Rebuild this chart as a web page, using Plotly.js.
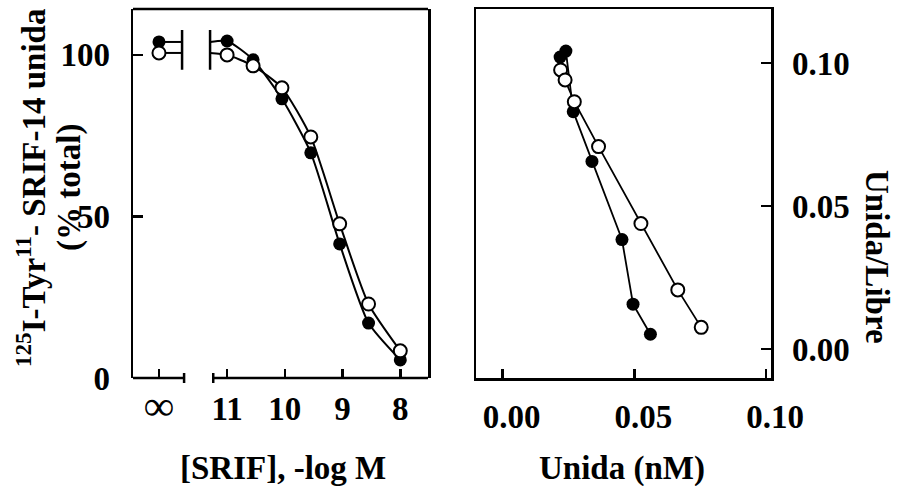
<!DOCTYPE html>
<html>
<head>
<meta charset="utf-8">
<script src="https://cdn.plot.ly/plotly-3.0.1.min.js"></script>
<style>html,body{margin:0;padding:0;background:#fff;}#chart{width:899px;height:486px;}</style>
</head>
<body>
<div id="chart"></div>
<script>
// ---- Left panel: displacement curves (x = -log M) ----
const infPos = 12.18;                 // axis position used for the "∞" category
const breakLeft = 11.78;              // curve-break bar, left side
const breakRight = 11.295;            // curve-break bar, right side
const axisBreakLeft = 11.745;         // axis-break end caps
const axisBreakRight = 11.24;
const logConc = [11, 10.55, 10.05, 9.55, 9.05, 8.55, 8];
const filledBound = [104.3, 98.5, 86.4, 69.7, 41.5, 17.0, 5.6];
const openBound   = [100.0, 96.6, 89.8, 74.6, 47.7, 22.9, 8.4];
const filledInf = 104.0;
const openInf = 100.6;
const leftTickVals = [infPos, 11, 10, 9, 8];
const leftTickText = ['<span style="font-size:42px">∞</span>', '11', '10', '9', '8'];

// ---- Right panel: Scatchard ----
const filledB  = [0.0218, 0.0240, 0.0268, 0.0339, 0.0453, 0.0495, 0.0561];
const filledBF = [0.1021, 0.1042, 0.0830, 0.0656, 0.0383, 0.0157, 0.0052];
const openB    = [0.0220, 0.0237, 0.0272, 0.0364, 0.0525, 0.0665, 0.0754];
const openBF   = [0.0976, 0.0941, 0.0865, 0.0708, 0.0439, 0.0207, 0.0076];
const rightTickVals = [0, 0.05, 0.10];
const rightTickText = ['0.00', '0.05', '0.10'];

const W = 899, H = 486;
const FONT = {family: 'Liberation Serif, Times New Roman, serif', size: 33, color: '#000', weight: 'bold'};
const LW = 2.5;
const px = v => v / W;
const py = v => 1 - v / H;

const domY = [py(378), py(9)];
const domX1 = [px(133), px(428)];
const domX2 = [px(476), px(771)];

const filledMarker = {symbol: 'circle', size: 13, color: '#000', line: {width: 0}};
const openMarker = {symbol: 'circle', size: 13, color: '#fff', line: {width: 2, color: '#000'}};
const curveLine = {color: '#000', width: 2, shape: 'spline', smoothing: 0.6};

const traces = [
  // connectors from ∞ points to the curve break
  {x: [infPos, breakLeft], y: [filledInf, filledInf], mode: 'lines', line: {color: '#000', width: 2}, xaxis: 'x', yaxis: 'y'},
  {x: [infPos, breakLeft], y: [openInf, openInf], mode: 'lines', line: {color: '#000', width: 2}, xaxis: 'x', yaxis: 'y'},
  // curves (start at the right break bar)
  {x: [breakRight].concat(logConc), y: [filledInf].concat(filledBound), mode: 'lines', line: curveLine, xaxis: 'x', yaxis: 'y'},
  {x: [breakRight].concat(logConc), y: [openInf].concat(openBound), mode: 'lines', line: curveLine, xaxis: 'x', yaxis: 'y'},
  // points
  {x: [infPos].concat(logConc), y: [filledInf].concat(filledBound), mode: 'markers', marker: filledMarker, xaxis: 'x', yaxis: 'y'},
  {x: [infPos].concat(logConc), y: [openInf].concat(openBound), mode: 'markers', marker: openMarker, xaxis: 'x', yaxis: 'y'},
  // Scatchard
  {x: filledB, y: filledBF, mode: 'lines+markers', line: {color: '#000', width: 1.8}, marker: filledMarker, xaxis: 'x2', yaxis: 'y2'},
  {x: openB, y: openBF, mode: 'lines+markers', line: {color: '#000', width: 1.8}, marker: openMarker, xaxis: 'x2', yaxis: 'y2'}
];

const capH = 5 / H;
const y0p = domY[0];
const shapes = [
  // top frame line, left panel
  {type: 'line', xref: 'x domain', yref: 'y domain', x0: 0, x1: 1, y0: 1, y1: 1, line: {color: '#000', width: LW}},
  // broken bottom axis
  {type: 'line', xref: 'paper', yref: 'paper', x0: domX1[0], x1: px(185), y0: y0p, y1: y0p, line: {color: '#000', width: LW}},
  {type: 'line', xref: 'paper', yref: 'paper', x0: px(214), x1: domX1[1], y0: y0p, y1: y0p, line: {color: '#000', width: LW}},
  {type: 'line', xref: 'x', yref: 'paper', x0: axisBreakLeft, x1: axisBreakLeft, y0: y0p - capH, y1: y0p + capH, line: {color: '#000', width: LW}},
  {type: 'line', xref: 'x', yref: 'paper', x0: axisBreakRight, x1: axisBreakRight, y0: y0p - capH, y1: y0p + capH, line: {color: '#000', width: LW}},
  // break bars on the curves
  {type: 'line', xref: 'x', yref: 'y', x0: breakLeft, x1: breakLeft, y0: 95.4, y1: 107.7, line: {color: '#000', width: LW}},
  {type: 'line', xref: 'x', yref: 'y', x0: breakRight, x1: breakRight, y0: 95.4, y1: 107.7, line: {color: '#000', width: LW}}
];

const annFont = Object.assign({}, FONT);
const annotations = [
  {text: '<sup>125</sup>I-Tyr<sup>11</sup>- SRIF-14 unida', x: px(31), y: py(188), xref: 'paper', yref: 'paper', textangle: -90, showarrow: false, xanchor: 'center', yanchor: 'middle', font: annFont},
  {text: '(% total)', x: px(69), y: py(188), xref: 'paper', yref: 'paper', textangle: -90, showarrow: false, xanchor: 'center', yanchor: 'middle', font: annFont},
  {text: '[SRIF], -log M', x: px(283), y: py(468), xref: 'paper', yref: 'paper', showarrow: false, xanchor: 'center', yanchor: 'middle', font: annFont},
  {text: 'Unida (nM)', x: px(622), y: py(468), xref: 'paper', yref: 'paper', showarrow: false, xanchor: 'center', yanchor: 'middle', font: annFont},
  {text: 'Unida/Libre', x: px(877), y: py(257), xref: 'paper', yref: 'paper', textangle: 90, showarrow: false, xanchor: 'center', yanchor: 'middle', font: annFont}
];

const layout = {
  width: W, height: H,
  margin: {l: 0, r: 0, t: 0, b: 0, pad: 0},
  paper_bgcolor: '#fff', plot_bgcolor: '#fff',
  showlegend: false,
  font: FONT,
  xaxis: {domain: domX1, range: [12.63, 7.52], showgrid: false, zeroline: false, showline: false,
          tickmode: 'array', tickvals: leftTickVals, ticktext: leftTickText,
          ticks: 'inside', ticklen: 9, tickwidth: LW, tickcolor: '#000', tickfont: FONT, ticklabelstandoff: 8},
  yaxis: {domain: domY, range: [0, 114.2], showgrid: false, zeroline: false, showline: true, mirror: true,
          linecolor: '#000', linewidth: LW, tickmode: 'array', tickvals: [0, 50, 100], ticktext: ['0', '50', '100'],
          ticks: 'inside', ticklen: 10, tickwidth: LW, tickcolor: '#000', tickfont: FONT, ticklabelstandoff: 14},
  xaxis2: {domain: domX2, anchor: 'y2', range: [-0.01014, 0.1019], showgrid: false, zeroline: false,
           showline: true, mirror: true, linecolor: '#000', linewidth: LW,
           tickmode: 'array', tickvals: rightTickVals, ticktext: rightTickText,
           ticks: 'inside', ticklen: 9, tickwidth: LW, tickcolor: '#000', tickfont: FONT, ticklabelstandoff: 8, ticklabelshift: 9},
  yaxis2: {domain: domY, anchor: 'x2', side: 'right', range: [-0.0101, 0.1189], showgrid: false, zeroline: false,
           showline: true, mirror: true, linecolor: '#000', linewidth: LW,
           tickmode: 'array', tickvals: rightTickVals, ticktext: rightTickText,
           ticks: 'inside', ticklen: 10, tickwidth: LW, tickcolor: '#000', tickfont: FONT, ticklabelstandoff: 12},
  shapes: shapes,
  annotations: annotations
};

Plotly.newPlot('chart', traces, layout, {staticPlot: true, displayModeBar: false});
</script>
</body>
</html>
